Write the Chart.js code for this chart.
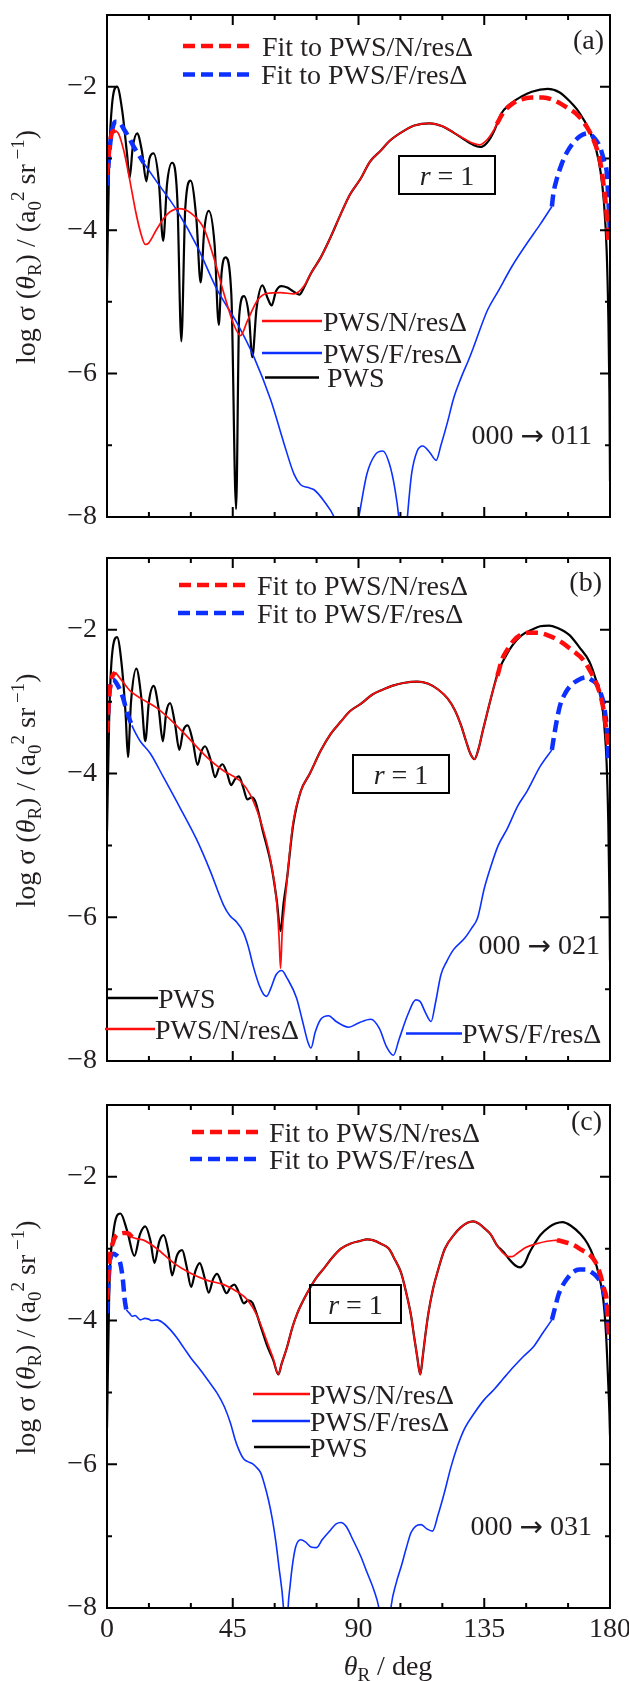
<!DOCTYPE html>
<html>
<head>
<meta charset="utf-8">
<script src="https://cdn.jsdelivr.net/npm/chart.js@4.4.1/dist/chart.umd.min.js"></script>
<style>
  html, body { margin: 0; padding: 0; background: #fff; }
  body { width: 629px; height: 1681px; position: relative; overflow: hidden; }
  .panel { position: absolute; left: 0; width: 629px; }
</style>
</head>
<body>
<div class="panel" style="top:0;height:540px"><canvas id="ca"></canvas></div>
<div class="panel" style="top:540px;height:545px"><canvas id="cb"></canvas></div>
<div class="panel" style="top:1085px;height:596px"><canvas id="cc"></canvas></div>
<script>
// axis ticks
const xTicks = [0, 45, 90, 135, 180];
const yTicks = [-2, -4, -6, -8];

// ---- panel (a) 000 -> 011 : [theta_R, log sigma]
const aPWS = [[0,-4.7],[0.8,-3.0],[1.8,-2.25],[3.6,-2.0],[5.5,-2.35],[7.2,-2.95],[8.1,-3.27],[9.2,-2.85],[10.8,-2.65],[12.5,-2.9],[14.1,-3.32],[15.2,-3.0],[16.7,-2.93],[18.5,-3.3],[20.1,-4.15],[21.5,-3.35],[23.3,-3.06],[25.2,-3.6],[26.6,-5.55],[28.0,-3.7],[29.9,-3.31],[32.0,-3.85],[33.5,-4.73],[34.8,-4.0],[36.4,-3.73],[38.5,-4.2],[40.0,-5.32],[41.0,-4.6],[42.4,-4.38],[44.5,-4.9],[46.2,-7.89],[47.3,-5.2],[49.0,-4.92],[50.8,-5.2],[52.0,-5.77],[53.5,-5.1],[55.6,-4.77],[57.5,-4.95],[58.9,-5.05],[60.5,-4.85],[62.4,-4.78],[64.5,-4.8],[66.5,-4.85],[68.8,-4.9],[70.5,-4.8],[73,-4.6],[76.5,-4.38],[80,-4.1],[83.6,-3.78],[87,-3.5],[90.8,-3.28],[94,-3.05],[98,-2.89],[101,-2.76],[105.2,-2.64],[110,-2.54],[115.5,-2.51],[120,-2.55],[124,-2.64],[128,-2.74],[131,-2.81],[133.5,-2.84],[136,-2.78],[138.5,-2.62],[141,-2.38],[144,-2.25],[148.2,-2.14],[152,-2.07],[157.7,-2.03],[162,-2.08],[165.5,-2.2],[169,-2.36],[172.5,-2.6],[175,-2.87],[176.6,-3.18],[177.8,-3.6],[178.8,-4.28],[179.4,-5.2],[179.8,-6.3],[180,-7.5]];
const aN = [[3,-2.61],[4.2,-2.66],[6,-2.89],[7.8,-3.23],[9,-3.48],[10.2,-3.73],[12,-4.03],[13.7,-4.2],[14.9,-4.18],[17.9,-3.98],[21.5,-3.78],[25.7,-3.7],[29.9,-3.76],[34.7,-3.98],[38.2,-4.38],[41.8,-4.88],[45.4,-5.32],[47.8,-5.47],[50.2,-5.27],[53.8,-4.98],[57.4,-4.88],[62.1,-4.87],[66.9,-4.89],[70.5,-4.78],[73,-4.6],[76.5,-4.38],[80,-4.1],[83.6,-3.78],[87,-3.5],[90.8,-3.28],[94,-3.05],[98,-2.89],[101,-2.76],[105.2,-2.64],[110,-2.54],[115.5,-2.51],[120,-2.55],[124,-2.64],[128,-2.73],[131,-2.79],[133.3,-2.81],[136,-2.74],[138.5,-2.6],[139.5,-2.52]];
const aF = [[13.1,-3.06],[17.9,-3.33],[25.1,-3.73],[32.3,-4.23],[39.4,-4.83],[46.6,-5.3],[52.6,-5.77],[58.6,-6.37],[63.3,-6.97],[67,-7.41],[69.3,-7.55],[72,-7.59],[74.1,-7.62],[77.7,-7.78],[81.3,-8.0],[84,-8.3],[86,-8.6],[88,-8.4],[90.1,-8.0],[93,-7.4],[96,-7.13],[98.7,-7.08],[101,-7.25],[103,-7.6],[104.4,-8.0],[105.5,-8.6],[106.5,-8.5],[107.5,-8.0],[109,-7.4],[111,-7.08],[113,-7.01],[115.5,-7.1],[117.8,-7.21],[119.5,-7.0],[121.9,-6.67],[124,-6.35],[126.6,-6.07],[129.5,-5.8],[131,-5.65],[136.1,-5.12],[140,-4.85],[145,-4.5],[150,-4.2],[155,-3.92],[159.2,-3.67]];
const aFitNLow = [[0,-3.23],[1,-2.8],[1.8,-2.64],[3,-2.61]];
const aFitNHigh = [[139.5,-2.52],[142,-2.35],[145,-2.24],[148,-2.18],[152,-2.15],[156,-2.15],[160,-2.19],[164.6,-2.29],[168.5,-2.4],[171.7,-2.56],[174.5,-2.78],[176.4,-3.03],[177.8,-3.4],[178.8,-3.78],[179.4,-4.18]];
const aFitFLow = [[0,-3.38],[1,-2.85],[2,-2.58],[3,-2.49],[4.5,-2.5],[6,-2.59],[8,-2.72],[9.6,-2.84],[11.5,-2.96],[13.1,-3.06]];
const aFitFHigh = [[159.2,-3.67],[159.7,-3.5],[161,-3.28],[162.5,-3.1],[164.5,-2.92],[166.9,-2.78],[169.3,-2.69],[172,-2.65],[174.5,-2.72],[176.4,-2.84],[178,-3.05],[178.8,-3.18],[179.3,-3.5],[179.8,-3.88],[180,-4.1]];

// ---- panel (b) 000 -> 021
const bPWS = [[0,-4.8],[0.8,-3.2],[1.8,-2.35],[3.6,-2.1],[5.3,-2.5],[6.7,-3.2],[7.5,-3.77],[8.6,-3.0],[10.5,-2.54],[12.3,-2.95],[13.7,-3.55],[15,-3.0],[16.7,-2.78],[18.5,-3.1],[20,-3.55],[21.2,-3.15],[22.6,-3.02],[24.3,-3.3],[25.9,-3.67],[27.3,-3.4],[28.9,-3.33],[30.7,-3.55],[32.4,-3.88],[33.7,-3.7],[35.1,-3.62],[37,-3.8],[38.7,-4.05],[40,-3.93],[41.3,-3.87],[43,-4.0],[44.4,-4.16],[45.8,-4.08],[47.2,-4.04],[48.8,-4.2],[50.2,-4.36],[51.8,-4.33],[53,-4.38],[55.9,-4.82],[58.9,-5.3],[60.7,-5.75],[62.1,-6.19],[63.2,-5.8],[64.3,-5.5],[66.6,-4.72],[69.3,-4.25],[72.6,-4.0],[76.5,-3.68],[80,-3.45],[83.6,-3.28],[87,-3.13],[90.8,-3.03],[95,-2.9],[98.2,-2.84],[102,-2.78],[106,-2.74],[111,-2.72],[115,-2.75],[118.5,-2.83],[122,-2.96],[124.5,-3.12],[126.7,-3.33],[128.5,-3.55],[130,-3.72],[131.5,-3.8],[133,-3.65],[134.5,-3.4],[136.1,-3.15],[138.2,-2.83],[140,-2.58],[142.5,-2.38],[145,-2.22],[148.2,-2.08],[152,-2.0],[155,-1.95],[158.2,-1.94],[161,-1.97],[165.4,-2.07],[169,-2.24],[172.6,-2.44],[175,-2.7],[176.9,-2.98],[178,-3.35],[178.8,-3.86],[179.4,-4.7],[179.8,-5.7],[180,-6.6]];
const bN = [[3,-2.59],[5.4,-2.71],[8.3,-2.85],[11.9,-2.95],[17.9,-3.09],[23.8,-3.29],[29.8,-3.53],[35.7,-3.77],[41.7,-3.96],[47.6,-4.1],[51.2,-4.29],[54.7,-4.63],[58.3,-5.16],[60.7,-5.78],[61.6,-6.3],[62.1,-6.71],[62.7,-6.2],[63.7,-5.78],[66.6,-4.68],[69.3,-4.25],[72.6,-4.0],[76.5,-3.68],[80,-3.45],[83.6,-3.28],[87,-3.13],[90.8,-3.03],[95,-2.9],[98.2,-2.84],[102,-2.78],[106,-2.74],[111,-2.72],[115,-2.75],[118.5,-2.83],[122,-2.96],[124.5,-3.12],[126.7,-3.33],[128.5,-3.55],[130,-3.72],[131.5,-3.8],[133,-3.65],[134.5,-3.4],[136.1,-3.15],[138.2,-2.83],[139.7,-2.64]];
const bF = [[8.9,-3.33],[10,-3.42],[11.9,-3.55],[15.5,-3.72],[20.2,-4.05],[26.2,-4.48],[32.1,-4.92],[36.9,-5.35],[41.7,-5.83],[44,-5.98],[46,-6.05],[48.8,-6.21],[50.5,-6.4],[52.4,-6.69],[54.5,-6.95],[56,-7.07],[57.1,-7.1],[58.5,-7.0],[60.5,-6.8],[62.5,-6.74],[64.5,-6.85],[67.8,-7.12],[70,-7.45],[72,-7.75],[73,-7.82],[74.5,-7.6],[76.5,-7.42],[79.3,-7.37],[82,-7.45],[86.5,-7.53],[90,-7.47],[94.4,-7.42],[97.5,-7.55],[100,-7.8],[102.5,-7.92],[104.5,-7.7],[107.7,-7.35],[110.5,-7.15],[112,-7.17],[114,-7.33],[116,-7.45],[117.5,-7.2],[119.5,-6.8],[121.5,-6.62],[124,-6.45],[127.8,-6.3],[130.5,-6.15],[132.6,-6.01],[135,-5.6],[137.3,-5.3],[140,-5.0],[143.2,-4.77],[147,-4.45],[150.4,-4.24],[155,-3.9],[159.2,-3.67]];
const bFitNLow = [[0,-3.43],[0.8,-2.9],[1.8,-2.66],[3,-2.59]];
const bFitNHigh = [[139.7,-2.64],[141.5,-2.4],[143.2,-2.28],[145.5,-2.15],[148,-2.07],[151,-2.04],[154,-2.04],[158,-2.08],[162.2,-2.16],[166,-2.27],[170.5,-2.42],[173,-2.58],[175.3,-2.76],[177,-2.98],[177.6,-3.09],[178.3,-3.28],[178.8,-3.43],[179.3,-3.6]];
const bFitFLow = [[0,-3.43],[0.8,-2.9],[2.1,-2.69],[3.5,-2.75],[4.8,-2.85],[6,-2.98],[7.1,-3.14],[8.9,-3.33]];
const bFitFHigh = [[159.2,-3.67],[159.8,-3.52],[161,-3.25],[162.2,-3.04],[164,-2.88],[165.8,-2.78],[168.5,-2.7],[171.5,-2.66],[173.5,-2.7],[175.3,-2.76],[177,-2.92],[177.6,-3.0],[178.4,-3.2],[178.8,-3.33],[179.2,-3.6],[179.4,-3.86]];

// ---- panel (c) 000 -> 031
const cPWS = [[0,-5.5],[0.8,-3.6],[2.2,-2.8],[4.8,-2.51],[7.2,-2.75],[9.8,-3.1],[11.8,-2.8],[13.7,-2.69],[15.5,-2.88],[17,-3.2],[18.7,-2.9],[20.3,-2.81],[22,-3.05],[23.3,-3.37],[25,-3.1],[26.9,-3.02],[28.5,-3.25],[30.1,-3.53],[31.7,-3.3],[33.2,-3.2],[34.9,-3.4],[36.4,-3.61],[38,-3.42],[39.4,-3.35],[41.2,-3.5],[42.8,-3.62],[44.3,-3.53],[45.6,-3.5],[47.3,-3.62],[49,-3.76],[50.5,-3.72],[52,-3.75],[53.5,-3.9],[55,-4.08],[57.4,-4.36],[59.5,-4.55],[61.3,-4.75],[62.5,-4.6],[64.5,-4.36],[66.3,-4.1],[68.1,-3.9],[70.5,-3.7],[72.9,-3.53],[75,-3.4],[77.7,-3.27],[80.5,-3.13],[83.7,-3.0],[87,-2.93],[90.8,-2.89],[93,-2.87],[95.1,-2.88],[98,-2.93],[100.9,-3.0],[103,-3.15],[105.2,-3.33],[107,-3.6],[108.8,-3.93],[110,-4.25],[111,-4.5],[112.1,-4.75],[113,-4.5],[113.8,-4.24],[115,-3.9],[116.6,-3.57],[118.3,-3.32],[120.9,-3.0],[124.3,-2.8],[126.7,-2.7],[129,-2.64],[131,-2.62],[133,-2.65],[135.2,-2.72],[137.3,-2.8],[139.5,-2.95],[142,-3.05],[144,-3.15],[146,-3.23],[147.8,-3.26],[149.5,-3.2],[151,-3.07],[152.4,-2.97],[155.1,-2.81],[158.2,-2.7],[160.5,-2.65],[163,-2.63],[166,-2.68],[169.5,-2.8],[172,-2.93],[174.1,-3.11],[176,-3.36],[177.6,-3.71],[178.6,-4.2],[179.4,-4.9],[179.8,-5.3],[180,-5.6]];
const cN = [[9,-2.84],[10.5,-2.86],[13.1,-2.88],[17.9,-3.0],[23.9,-3.2],[29.9,-3.34],[35.9,-3.44],[41.8,-3.5],[46.6,-3.6],[50.2,-3.71],[53.8,-3.94],[57.4,-4.31],[59.5,-4.53],[61.3,-4.75],[62.5,-4.6],[64.5,-4.36],[66.3,-4.1],[68.1,-3.9],[70.5,-3.7],[72.9,-3.53],[75,-3.4],[77.7,-3.27],[80.5,-3.13],[83.7,-3.0],[87,-2.93],[90.8,-2.89],[93,-2.87],[95.1,-2.88],[98,-2.93],[100.9,-3.0],[103,-3.15],[105.2,-3.33],[107,-3.6],[108.8,-3.93],[110,-4.25],[111,-4.5],[112.1,-4.75],[113,-4.5],[113.8,-4.24],[115,-3.9],[116.6,-3.57],[118.3,-3.32],[120.9,-3.0],[124.3,-2.8],[126.7,-2.7],[129,-2.64],[131,-2.62],[133,-2.65],[135.2,-2.72],[137.3,-2.8],[139.5,-2.95],[141.5,-3.05],[143.8,-3.11],[145,-3.11],[147,-3.06],[150,-2.98],[153.9,-2.93],[157,-2.9],[161,-2.88]];
const cF = [[6.9,-3.85],[8.1,-3.9],[9,-3.94],[10,-3.93],[12,-3.99],[13.5,-3.97],[14.9,-3.98],[16,-4.0],[17.9,-3.99],[20,-4.03],[22.7,-4.13],[25,-4.24],[27.5,-4.38],[30,-4.52],[33.5,-4.69],[36.5,-4.85],[39.4,-5.01],[42,-5.2],[44.2,-5.43],[45.8,-5.65],[47.2,-5.8],[48.8,-5.92],[50.2,-5.96],[52,-5.99],[53.2,-6.03],[55,-6.12],[56.2,-6.26],[57.8,-6.5],[59.2,-6.77],[60.5,-7.1],[61.5,-7.42],[63.1,-7.97],[63.8,-8.5],[64.4,-8.5],[64.8,-8.0],[65.5,-7.7],[66.3,-7.42],[67.5,-7.15],[69.3,-7.05],[71,-7.08],[73,-7.15],[75,-7.16],[77,-7.05],[80.1,-6.91],[82,-6.83],[83.7,-6.81],[85.5,-6.86],[88,-7.05],[90.8,-7.28],[93,-7.5],[95.5,-7.75],[97.3,-8.0],[99,-8.5],[100.5,-8.5],[101.7,-7.97],[103.5,-7.65],[105.3,-7.42],[107,-7.18],[108.8,-6.95],[110.5,-6.86],[112.4,-6.84],[114.5,-6.9],[116.5,-6.93],[118.5,-6.7],[120.7,-6.4],[123,-6.05],[125.4,-5.75],[128,-5.5],[131.4,-5.29],[135,-5.1],[138.5,-4.96],[142,-4.8],[145.6,-4.64],[149,-4.5],[152.7,-4.36],[156,-4.17],[159.2,-3.99]];
const cFitNLow = [[0,-3.71],[0.6,-3.3],[1.2,-3.06],[2,-2.93],[3,-2.83],[4.8,-2.79],[6.5,-2.78],[7.8,-2.79],[9,-2.84]];
const cFitNHigh = [[161,-2.88],[163,-2.9],[167,-2.95],[170,-3.02],[172.9,-3.09],[175,-3.2],[176.4,-3.34],[177.8,-3.55],[178.8,-3.71],[179.4,-4.04],[179.7,-4.25]];
const cFitFLow = [[0,-3.9],[0.5,-3.5],[1,-3.2],[1.8,-3.08],[2.4,-3.07],[3.3,-3.09],[4.2,-3.13],[5,-3.25],[5.7,-3.44],[6.3,-3.7],[6.9,-3.85]];
const cFitFHigh = [[159.2,-3.99],[160.4,-3.81],[161.5,-3.65],[162.8,-3.53],[165,-3.4],[167,-3.32],[169,-3.29],[171.1,-3.29],[173.5,-3.33],[175.3,-3.39],[177,-3.5],[177.9,-3.62],[178.6,-3.8],[179.1,-3.99],[179.5,-4.27]];

const RED = '#ff0d0d';
const BLUE = '#0b30ff';
const TXT = '#231f20';
const FAM = '"Liberation Serif", "Times New Roman", serif';
const ARROW_FAM = '"DejaVu Sans", sans-serif';
Chart.defaults.font.family = FAM;

function pts(arr) { return arr.map(p => ({ x: p[0], y: p[1] })); }
function twoPart(lo, hi) {
  return pts(lo).concat([{ x: (lo[lo.length - 1][0] + hi[0][0]) / 2, y: null }], pts(hi));
}

// text with italics, sub- and superscripts ('a' = arrow glyph font)
function drawRuns(ctx, runs, x, y, size, align) {
  const items = runs.map(([t, k]) => {
    const small = k.includes('b') || k.includes('p');
    const fs = small ? size * 0.68 : size;
    const font = (k.includes('i') ? 'italic ' : '') + fs + 'px ' + (k.includes('a') ? ARROW_FAM : FAM);
    ctx.font = font;
    return { t, font, w: ctx.measureText(t).width,
      dy: k.includes('b') ? size * 0.2 : (k.includes('p') ? -size * 0.38 : (k.includes('a') ? 1 : 0)) };
  });
  const total = items.reduce((s, it) => s + it.w, 0);
  let cx = align === 'center' ? x - total / 2 : (align === 'right' ? x - total : x);
  ctx.textAlign = 'left';
  ctx.textBaseline = 'alphabetic';
  for (const it of items) {
    ctx.font = it.font;
    ctx.fillText(it.t, cx, y + it.dy);
    cx += it.w;
  }
}

const yTitle = [['log σ (', ''], ['θ', 'i'], ['R', 'b'], [') / (a', ''], ['0', 'b'], ['2', 'p'], [' sr', ''], [' \u22121', 'p'], [')', '']];
const xTitle = [['θ', 'i'], ['R', 'b'], [' / deg', '']];

const decor = {
  id: 'decor',
  afterDraw(chart, args, o) {
    const { ctx, chartArea: ca, scales: { x, y } } = chart;
    ctx.save();
    ctx.strokeStyle = '#000';
    ctx.lineWidth = 2;
    ctx.setLineDash([]);
    ctx.strokeRect(ca.left, ca.top, ca.right - ca.left, ca.bottom - ca.top);
    ctx.beginPath();
    for (let v = 15; v < 180; v += 15) {
      const px = x.getPixelForValue(v);
      const L = v % 45 === 0 ? 10 : 5;
      ctx.moveTo(px, ca.bottom); ctx.lineTo(px, ca.bottom - L);
      ctx.moveTo(px, ca.top); ctx.lineTo(px, ca.top + L);
    }
    for (let v = -7; v <= -2; v++) {
      const py = y.getPixelForValue(v);
      const L = v % 2 === 0 ? 10 : 5;
      ctx.moveTo(ca.left, py); ctx.lineTo(ca.left + L, py);
      ctx.moveTo(ca.right, py); ctx.lineTo(ca.right - L, py);
    }
    ctx.stroke();

    // y title
    ctx.fillStyle = TXT;
    ctx.save();
    ctx.translate(35, (ca.top + ca.bottom) / 2 - 19);
    ctx.rotate(-Math.PI / 2);
    drawRuns(ctx, yTitle, 0, 0, 28, 'center');
    ctx.restore();

    // legend entries
    for (const e of o.legend) {
      ctx.beginPath();
      ctx.strokeStyle = e.c;
      ctx.lineWidth = e.dash ? 4.5 : 2.5;
      ctx.setLineDash(e.dash ? [12, 6] : []);
      ctx.moveTo(e.x1, e.y); ctx.lineTo(e.x2, e.y);
      ctx.stroke();
      ctx.setLineDash([]);
      ctx.fillStyle = TXT;
      drawRuns(ctx, [[e.t, '']], e.tx, e.y + 9.5, 28, 'left');
    }

    // panel tag and transition
    drawRuns(ctx, [[o.tag.t, '']], o.tag.x, o.tag.y + 8, 28, 'right');
    const [from, to] = o.trans.t.split('→');
    drawRuns(ctx, [[from, ''], ['→', 'a'], [to, '']], o.trans.x, o.trans.y + 9.5, 28, 'right');

    // r = 1 box
    const b = o.box;
    ctx.strokeStyle = '#000';
    ctx.lineWidth = 2;
    ctx.strokeRect(b.x, b.y, b.w, b.h);
    drawRuns(ctx, [['r', 'i'], [' = 1', '']], b.x + b.w / 2, b.y + b.h / 2 + 9.5, 28, 'center');

    if (o.xTitle) drawRuns(ctx, xTitle, o.xTitle.x, o.xTitle.y, 28, 'center');
    ctx.restore();
  }
};

function makePanel(id, top, xh, showX, s, deco) {
  const line = (label, data, color, width, dash, order) => ({
    label, data, borderColor: color, borderWidth: width, borderDash: dash,
    pointRadius: 0, fill: false, cubicInterpolationMode: 'monotone', spanGaps: false, order
  });
  return new Chart(document.getElementById(id), {
    type: 'line',
    data: {
      datasets: [
        line('Fit to PWS/N/resΔ', twoPart(s.fnLo, s.fnHi), RED, 4.5, [12, 6], 0),
        line('Fit to PWS/F/resΔ', twoPart(s.ffLo, s.ffHi), BLUE, 4.5, [12, 6], 1),
        line('PWS/N/resΔ', pts(s.n), RED, 1.7, [], 2),
        line('PWS/F/resΔ', pts(s.f), BLUE, 1.6, [], 3),
        line('PWS', pts(s.pws), '#000', 2.2, [], 4)
      ]
    },
    options: {
      responsive: true, maintainAspectRatio: false, animation: false,
      layout: { padding: { left: 0, right: 19, top: top, bottom: 0 } },
      plugins: { legend: { display: false }, tooltip: { enabled: false }, decor: deco },
      scales: {
        x: {
          type: 'linear', min: 0, max: 180,
          grid: { display: false, drawTicks: false }, border: { display: false },
          ticks: {
            display: showX, stepSize: 15, autoSkip: false, padding: 5, color: TXT,
            font: { size: 28 }, maxRotation: 0,
            callback: v => xTicks.includes(v) ? String(v) : ''
          },
          afterFit: sc => { sc.height = xh; sc.paddingLeft = 0; sc.paddingRight = 0; }
        },
        y: {
          min: -8, max: -1,
          grid: { display: false, drawTicks: false }, border: { display: false },
          ticks: {
            stepSize: 1, autoSkip: false, padding: 10, color: TXT, font: { size: 28 },
            callback: v => yTicks.includes(v) ? '\u2212' + Math.abs(v) : ''
          },
          afterFit: sc => { sc.width = 107; sc.paddingTop = 0; sc.paddingBottom = 0; }
        }
      }
    },
    plugins: [decor]
  });
}

makePanel('ca', 15, 23, false,
  { pws: aPWS, n: aN, f: aF, fnLo: aFitNLow, fnHi: aFitNHigh, ffLo: aFitFLow, ffHi: aFitFHigh },
  {
    legend: [
      { x1: 183, x2: 253, y: 46, c: RED, dash: true, tx: 262, t: 'Fit to PWS/N/resΔ' },
      { x1: 183, x2: 253, y: 74.5, c: BLUE, dash: true, tx: 261, t: 'Fit to PWS/F/resΔ' },
      { x1: 262, x2: 322, y: 321, c: RED, tx: 323, t: 'PWS/N/resΔ' },
      { x1: 262, x2: 322, y: 353, c: BLUE, tx: 323, t: 'PWS/F/resΔ' },
      { x1: 265, x2: 319, y: 377.5, c: '#000', tx: 327, t: 'PWS' }
    ],
    tag: { t: '(a)', x: 604, y: 41 },
    trans: { t: '000 → 011', x: 592, y: 434 },
    box: { x: 399, y: 156, w: 96, h: 38 }
  });

makePanel('cb', 18, 24, false,
  { pws: bPWS, n: bN, f: bF, fnLo: bFitNLow, fnHi: bFitNHigh, ffLo: bFitFLow, ffHi: bFitFHigh },
  {
    legend: [
      { x1: 179, x2: 248, y: 45, c: RED, dash: true, tx: 257, t: 'Fit to PWS/N/resΔ' },
      { x1: 178, x2: 247, y: 73, c: BLUE, dash: true, tx: 257, t: 'Fit to PWS/F/resΔ' },
      { x1: 106, x2: 158, y: 458, c: '#000', tx: 158, t: 'PWS' },
      { x1: 105, x2: 155, y: 489, c: RED, tx: 155, t: 'PWS/N/resΔ' },
      { x1: 406, x2: 462, y: 493.5, c: BLUE, tx: 462, t: 'PWS/F/resΔ' }
    ],
    tag: { t: '(b)', x: 602, y: 43 },
    trans: { t: '000 → 021', x: 600, y: 404.5 },
    box: { x: 353, y: 215, w: 96, h: 38 }
  });

makePanel('cc', 20, 73, true,
  { pws: cPWS, n: cN, f: cF, fnLo: cFitNLow, fnHi: cFitNHigh, ffLo: cFitFLow, ffHi: cFitFHigh },
  {
    legend: [
      { x1: 192, x2: 260, y: 47, c: RED, dash: true, tx: 269, t: 'Fit to PWS/N/resΔ' },
      { x1: 190, x2: 260, y: 74, c: BLUE, dash: true, tx: 269, t: 'Fit to PWS/F/resΔ' },
      { x1: 253, x2: 310, y: 309, c: RED, tx: 310, t: 'PWS/N/resΔ' },
      { x1: 252, x2: 310, y: 336, c: BLUE, tx: 310, t: 'PWS/F/resΔ' },
      { x1: 254, x2: 310, y: 362, c: '#000', tx: 310, t: 'PWS' }
    ],
    tag: { t: '(c)', x: 602, y: 37 },
    trans: { t: '000 → 031', x: 592, y: 440 },
    box: { x: 310, y: 200, w: 91, h: 38 },
    xTitle: { x: 388, y: 590 }
  });
</script>
</body>
</html>
